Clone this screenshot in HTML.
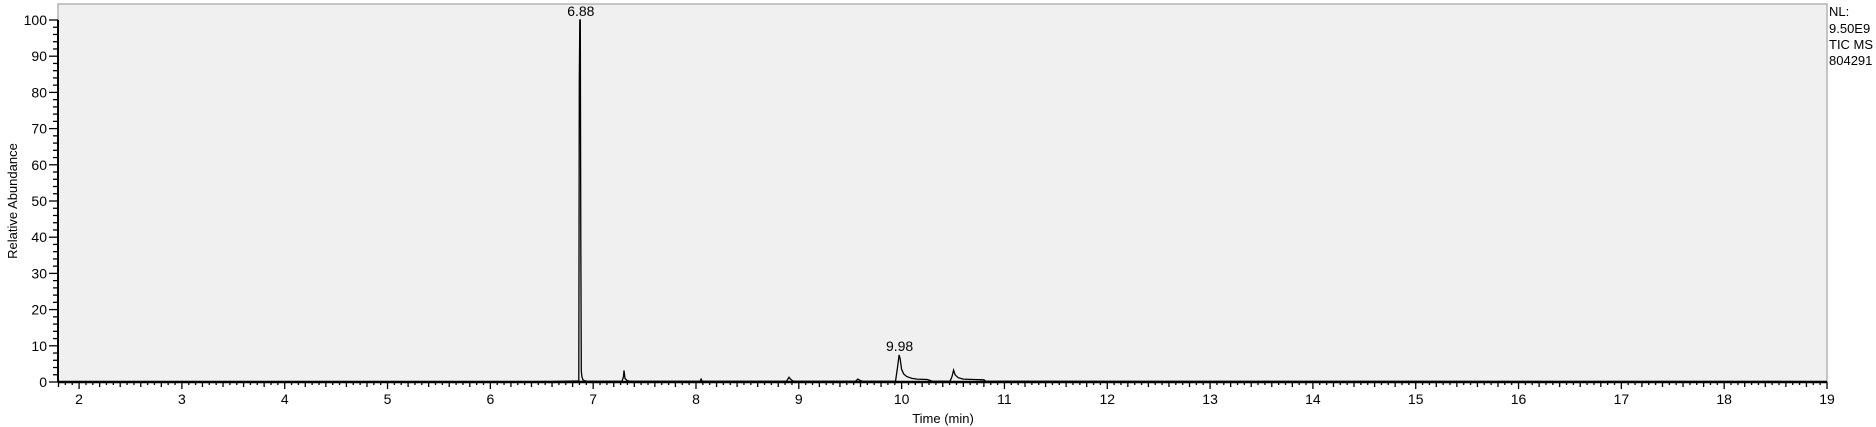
<!DOCTYPE html>
<html><head><meta charset="utf-8"><style>
html,body{margin:0;padding:0;background:#fff;width:1876px;height:427px;overflow:hidden}
svg text{font-family:"Liberation Sans",Arial,sans-serif;fill:#000}
</style></head><body>
<svg id="chart" width="1876" height="427" xmlns="http://www.w3.org/2000/svg">
<rect x="58" y="4" width="1769" height="378" fill="#f0f0f0" stroke="#b4b4b4" stroke-width="1.5"/>
<g id="axes"></g>
<path id="trace" fill="none" stroke="#000" stroke-width="1.3"/>
<g id="labels"></g>
<text transform="translate(17,201) rotate(-90)" text-anchor="middle" font-size="13">Relative Abundance</text>
<text x="943" y="423" text-anchor="middle" font-size="13">Time (min)</text>
<g font-size="13">
<text x="1829" y="16">NL:</text>
<text x="1829" y="33">9.50E9</text>
<text x="1829" y="49">TIC  MS</text>
<text x="1829" y="65">804291</text>
</g>
</svg>
<script>
const times = [1.8,6.4,6.6,6.86,6.865,6.87,6.875,6.88,6.885,6.89,6.9,6.92,6.95,7.28,7.295,7.30,7.31,7.33,7.36,8.04,8.05,8.06,8.88,8.905,8.915,8.94,8.97,9.55,9.575,9.59,9.62,9.94,9.96,9.975,9.985,10.0,10.02,10.05,10.1,10.15,10.25,10.3,10.47,10.49,10.505,10.52,10.55,10.6,10.7,10.8,10.82,19];
const values = [0.1,0.1,0.15,0.3,83,100,100,40,3,1.5,0.6,0.3,0.2,0.2,1.5,3.2,1,0.4,0.2,0.2,0.8,0.2,0.2,1.3,0.9,0.3,0.2,0.2,0.8,0.5,0.2,0.2,4,7.5,6.5,3.5,2.2,1.5,1,0.8,0.7,0.2,0.2,1.5,3.3,2,1.2,0.8,0.7,0.6,0.2,0.1];
const peakLabels = ["6.88","9.98"];
const peakTimes = [6.88,9.98];
const peakValues = [100,7.5];
const xTicks = [2,3,4,5,6,7,8,9,10,11,12,13,14,15,16,17,18,19];
const yTicks = [0,10,20,30,40,50,60,70,80,90,100];
const X0=1.795,X1=19,PX0=58,PX1=1827,PY0=382,PY100=20;
const xs=t=>PX0+(t-X0)*(PX1-PX0)/(X1-X0);
const ys=v=>PY0-v*(PY0-PY100)/100;
const NS="http://www.w3.org/2000/svg";
const ax=document.getElementById('axes');
function ln(x1,y1,x2,y2,w){const l=document.createElementNS(NS,'line');l.setAttribute('x1',x1);l.setAttribute('y1',y1);l.setAttribute('x2',x2);l.setAttribute('y2',y2);l.setAttribute('stroke','#000');l.setAttribute('stroke-width',w);ax.appendChild(l);return l;}
function tx(x,y,s,anchor,g){const t=document.createElementNS(NS,'text');t.setAttribute('x',x);t.setAttribute('y',y);t.setAttribute('text-anchor',anchor);t.setAttribute('font-size','14');t.textContent=s;g.appendChild(t);return t;}
const xa=ln(58,382,1827,382,2.5);


const ya=ln(58,382,58,20,2);


for(let k=Math.ceil(X0*15);k<=X1*15;k++){const t=k/15,x=xs(t);let h=k%15===0?7:(k%3===0?5:3);ln(x,382,x,382+h,1.3);}
xTicks.forEach(t=>{const e=tx(xs(t),404,String(t),'middle',ax);

});
for(let v=0;v<=100;v+=2){const y=ys(v);ln(v%10===0?49:53,y,58,y,1.3);}
yTicks.forEach(v=>{const e=tx(47,ys(v)+5,String(v),'end',ax);

});
let d='';times.forEach((t,i)=>{d+=(i?'L':'M')+xs(t).toFixed(1)+' '+ys(values[i]).toFixed(1)+' ';});
document.getElementById('trace').setAttribute('d',d);
const lg=document.getElementById('labels');
peakLabels.forEach((s,i)=>{const e=tx(xs(peakTimes[i]),ys(peakValues[i])-4,s,'middle',lg);

});
</script>
</body></html>
